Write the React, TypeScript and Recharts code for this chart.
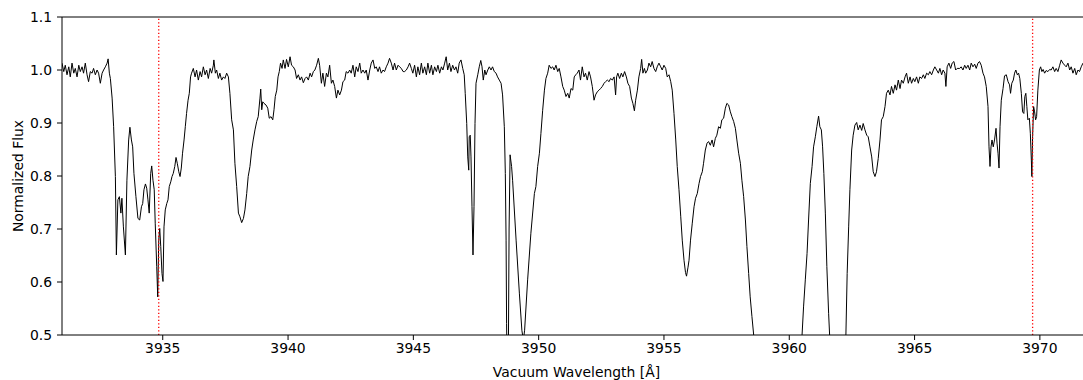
import { LineChart, Line, XAxis, YAxis, ReferenceLine, Label } from 'recharts';

// spectrum, [vacuum wavelength (A), normalized flux], split by region
const segK: [number, number][] = [
  [3930.98, 1.013], [3931.05, 0.997], [3931.11, 1.009], [3931.18, 0.991], [3931.25, 1.006], [3931.31, 0.987],
  [3931.38, 1.013], [3931.45, 0.994], [3931.51, 1.003], [3931.58, 0.987], [3931.65, 1.009], [3931.71, 0.997],
  [3931.78, 1.006], [3931.84, 0.994], [3931.91, 1.013], [3931.98, 0.991], [3932.04, 0.978], [3932.11, 0.997],
  [3932.18, 0.994], [3932.24, 1.003], [3932.31, 0.991], [3932.38, 1.0], [3932.44, 0.994], [3932.51, 0.975],
  [3932.58, 0.994], [3932.64, 1.0], [3932.71, 1.006], [3932.78, 1.013], [3932.82, 1.021], [3932.87, 0.994],
  [3932.91, 0.984], [3932.98, 0.947], [3933.04, 0.893], [3933.11, 0.799], [3933.15, 0.651], [3933.21, 0.755],
  [3933.27, 0.761], [3933.33, 0.73], [3933.37, 0.758], [3933.43, 0.704], [3933.51, 0.651], [3933.57, 0.792],
  [3933.64, 0.868], [3933.69, 0.892], [3933.75, 0.868], [3933.8, 0.855], [3933.85, 0.805], [3933.93, 0.761],
  [3934.01, 0.72], [3934.08, 0.717], [3934.15, 0.742], [3934.2, 0.748], [3934.25, 0.774], [3934.31, 0.785],
  [3934.36, 0.777], [3934.41, 0.755], [3934.46, 0.73], [3934.52, 0.805], [3934.56, 0.819], [3934.61, 0.792],
  [3934.66, 0.774], [3934.7, 0.711], [3934.76, 0.629], [3934.8, 0.572], [3934.84, 0.679], [3934.88, 0.701],
  [3934.92, 0.667], [3934.97, 0.616], [3935.01, 0.601], [3935.05, 0.704], [3935.1, 0.736], [3935.16, 0.748],
  [3935.21, 0.755], [3935.26, 0.78], [3935.32, 0.789], [3935.37, 0.799], [3935.42, 0.805], [3935.48, 0.818],
  [3935.53, 0.835], [3935.58, 0.824], [3935.64, 0.808], [3935.69, 0.799], [3935.74, 0.815], [3935.79, 0.843],
  [3935.85, 0.868], [3935.9, 0.893], [3935.95, 0.918], [3936.01, 0.943], [3936.06, 0.956], [3936.11, 0.987],
];

const seg3938: [number, number][] = [
  [3936.15, 0.994], [3936.22, 1.003], [3936.29, 0.987], [3936.35, 1.0], [3936.42, 0.981], [3936.49, 0.997],
  [3936.55, 0.987], [3936.62, 1.006], [3936.69, 0.991], [3936.75, 1.0], [3936.82, 0.984], [3936.89, 1.003],
  [3936.95, 0.994], [3937.02, 1.009], [3937.04, 1.019], [3937.1, 0.994], [3937.15, 1.0], [3937.22, 0.984],
  [3937.28, 0.994], [3937.35, 0.981], [3937.42, 0.987], [3937.48, 0.984], [3937.55, 0.994], [3937.62, 0.987],
  [3937.68, 0.956], [3937.75, 0.906], [3937.82, 0.887], [3937.88, 0.824], [3937.95, 0.78], [3938.02, 0.73],
  [3938.08, 0.723], [3938.15, 0.712], [3938.22, 0.72], [3938.28, 0.736], [3938.35, 0.767], [3938.41, 0.799],
  [3938.48, 0.818], [3938.55, 0.849], [3938.61, 0.868], [3938.68, 0.887], [3938.75, 0.903], [3938.81, 0.912],
  [3938.88, 0.947], [3938.91, 0.964], [3938.95, 0.925], [3938.99, 0.94], [3939.04, 0.937], [3939.12, 0.934],
  [3939.19, 0.928], [3939.25, 0.909], [3939.32, 0.912], [3939.39, 0.906], [3939.44, 0.925], [3939.49, 0.95],
  [3939.55, 0.962], [3939.6, 0.987], [3939.65, 0.997], [3939.7, 1.013], [3939.76, 1.003], [3939.81, 1.019],
  [3939.88, 1.003], [3939.94, 1.02], [3940.01, 1.006], [3940.08, 1.025], [3940.14, 1.009], [3940.21, 1.006],
  [3940.28, 1.0], [3940.34, 0.984], [3940.41, 0.991], [3940.48, 0.981], [3940.54, 0.987], [3940.61, 0.976],
  [3940.68, 0.984], [3940.74, 0.987], [3940.81, 0.981], [3940.88, 0.994], [3940.94, 0.987], [3941.01, 0.997],
  [3941.07, 1.0], [3941.14, 1.009], [3941.21, 1.022],
];

const seg3943: [number, number][] = [
  [3941.26, 1.009], [3941.33, 0.975], [3941.39, 0.994], [3941.46, 0.969], [3941.53, 0.994], [3941.59, 0.987],
  [3941.66, 1.009], [3941.73, 0.975], [3941.79, 0.981], [3941.86, 0.969], [3941.93, 0.947], [3941.99, 0.962],
  [3942.06, 0.953], [3942.13, 0.962], [3942.19, 0.978], [3942.26, 0.981], [3942.32, 0.997], [3942.39, 0.994],
  [3942.46, 1.0], [3942.52, 0.994], [3942.59, 1.009], [3942.66, 0.987], [3942.72, 1.006], [3942.79, 0.997],
  [3942.86, 1.013], [3942.92, 0.994], [3942.99, 1.0], [3943.06, 0.994], [3943.12, 1.0], [3943.19, 0.981],
  [3943.26, 1.0], [3943.32, 1.013], [3943.39, 1.019], [3943.46, 1.003], [3943.52, 1.006], [3943.59, 0.997],
  [3943.65, 1.006], [3943.72, 0.994], [3943.79, 1.0], [3943.85, 0.997], [3943.92, 1.006], [3943.99, 1.013],
  [3944.05, 1.022], [3944.12, 1.013], [3944.19, 1.0], [3944.25, 1.013], [3944.32, 1.0], [3944.39, 1.009],
  [3944.45, 1.006], [3944.52, 1.003], [3944.59, 0.997], [3944.65, 0.997], [3944.72, 1.0], [3944.79, 1.006],
  [3944.85, 1.013], [3944.92, 1.003], [3944.98, 0.994], [3945.05, 1.009], [3945.12, 0.987], [3945.18, 1.006],
  [3945.25, 0.991], [3945.32, 1.013], [3945.38, 0.994], [3945.45, 1.006], [3945.52, 0.991], [3945.58, 1.013],
  [3945.65, 0.994], [3945.72, 1.009], [3945.78, 0.991], [3945.85, 1.006], [3945.92, 0.997], [3945.98, 1.009],
  [3946.05, 0.994], [3946.12, 1.006], [3946.18, 1.0], [3946.25, 1.013], [3946.31, 1.025],
];

const seg3949: [number, number][] = [
  [3946.37, 1.0], [3946.44, 1.013], [3946.5, 0.997], [3946.57, 1.009], [3946.64, 1.0], [3946.7, 1.006],
  [3946.77, 0.994], [3946.83, 1.013], [3946.9, 1.019], [3946.97, 1.003], [3947.03, 0.991], [3947.07, 0.956],
  [3947.13, 0.899], [3947.17, 0.836], [3947.21, 0.811], [3947.23, 0.874], [3947.27, 0.877], [3947.3, 0.836],
  [3947.34, 0.742], [3947.38, 0.651], [3947.42, 0.742], [3947.46, 0.899], [3947.5, 0.975], [3947.57, 0.991],
  [3947.63, 1.006], [3947.69, 1.018], [3947.74, 1.006], [3947.79, 0.981], [3947.85, 1.0], [3947.9, 0.991],
  [3947.97, 1.0], [3948.03, 1.006], [3948.1, 1.0], [3948.16, 1.006], [3948.23, 0.997], [3948.3, 0.994],
  [3948.36, 0.987], [3948.43, 0.981], [3948.5, 0.975], [3948.56, 0.953], [3948.63, 0.893], [3948.67, 0.805],
  [3948.7, 0.679], [3948.72, 0.522], [3948.75, 0.4], [3948.79, 0.45], [3948.82, 0.7], [3948.86, 0.84],
  [3948.92, 0.818], [3948.96, 0.792], [3949.1, 0.679], [3949.23, 0.579], [3949.33, 0.509], [3949.39, 0.49],
  [3949.44, 0.509], [3949.56, 0.604], [3949.69, 0.692], [3949.83, 0.767], [3949.89, 0.78], [3949.96, 0.818],
  [3950.03, 0.843], [3950.09, 0.88], [3950.16, 0.924], [3950.23, 0.962], [3950.29, 0.984], [3950.36, 0.994],
  [3950.42, 1.009], [3950.49, 1.003], [3950.56, 1.006], [3950.62, 1.0], [3950.69, 1.009], [3950.76, 0.997],
  [3950.82, 1.003], [3950.89, 0.987], [3950.96, 0.969], [3951.02, 0.962], [3951.09, 0.95], [3951.16, 0.956],
  [3951.22, 0.947], [3951.29, 0.965], [3951.36, 0.962], [3951.42, 0.987],
];

const seg3955: [number, number][] = [
  [3951.48, 0.991], [3951.54, 0.994], [3951.61, 1.0], [3951.67, 0.981], [3951.74, 1.006], [3951.81, 0.987],
  [3951.87, 0.994], [3951.94, 0.981], [3952.01, 0.997], [3952.07, 0.987], [3952.14, 0.969], [3952.21, 0.943],
  [3952.27, 0.953], [3952.34, 0.959], [3952.41, 0.962], [3952.47, 0.965], [3952.54, 0.969], [3952.61, 0.975],
  [3952.67, 0.978], [3952.74, 0.981], [3952.81, 0.978], [3952.87, 0.984], [3952.94, 0.981], [3953.01, 0.987],
  [3953.07, 0.953], [3953.11, 0.987], [3953.16, 0.994], [3953.23, 0.984], [3953.3, 0.994], [3953.36, 0.987],
  [3953.43, 0.997], [3953.5, 0.987], [3953.56, 0.975], [3953.63, 0.969], [3953.7, 0.947], [3953.76, 0.937],
  [3953.82, 0.923], [3953.87, 0.943], [3953.94, 0.962], [3954.0, 0.987], [3954.07, 1.003], [3954.11, 1.02],
  [3954.16, 0.994], [3954.22, 1.003], [3954.27, 0.994], [3954.34, 1.0], [3954.4, 1.013], [3954.47, 1.006],
  [3954.53, 1.016], [3954.6, 1.003], [3954.67, 0.997], [3954.73, 1.006], [3954.8, 1.013], [3954.87, 1.006],
  [3954.93, 1.0], [3955.0, 1.009], [3955.07, 1.003], [3955.13, 0.987], [3955.2, 0.991], [3955.27, 0.978],
  [3955.33, 0.962], [3955.4, 0.918], [3955.47, 0.868], [3955.53, 0.818], [3955.6, 0.774], [3955.67, 0.723],
  [3955.73, 0.679], [3955.8, 0.641], [3955.86, 0.618], [3955.9, 0.611], [3955.96, 0.628], [3956.0, 0.641],
  [3956.06, 0.679], [3956.13, 0.711], [3956.2, 0.742], [3956.26, 0.758], [3956.33, 0.767], [3956.4, 0.786],
  [3956.46, 0.799], [3956.53, 0.808],
];

const seg3960: [number, number][] = [
  [3956.58, 0.824], [3956.65, 0.849], [3956.72, 0.862], [3956.78, 0.865], [3956.85, 0.858], [3956.92, 0.868],
  [3956.98, 0.855], [3957.05, 0.871], [3957.11, 0.877], [3957.18, 0.893], [3957.25, 0.89], [3957.31, 0.906],
  [3957.38, 0.909], [3957.45, 0.928], [3957.51, 0.937], [3957.58, 0.934], [3957.65, 0.921], [3957.71, 0.912],
  [3957.78, 0.903], [3957.85, 0.89], [3957.91, 0.868], [3957.98, 0.843], [3958.05, 0.824], [3958.11, 0.792],
  [3958.18, 0.761], [3958.25, 0.717], [3958.31, 0.667], [3958.38, 0.616], [3958.44, 0.572], [3958.51, 0.535],
  [3958.58, 0.5], [3958.9, 0.4], [3959.6, 0.3], [3960.35, 0.38], [3960.51, 0.5], [3960.57, 0.553],
  [3960.64, 0.604], [3960.71, 0.654], [3960.77, 0.717], [3960.84, 0.786], [3960.91, 0.818], [3960.97, 0.855],
  [3961.04, 0.874], [3961.1, 0.893], [3961.17, 0.913], [3961.22, 0.893], [3961.28, 0.887], [3961.33, 0.855],
  [3961.38, 0.805], [3961.44, 0.73], [3961.5, 0.629], [3961.57, 0.541], [3961.61, 0.5], [3961.7, 0.39],
  [3962.2, 0.38],
];

const seg3964: [number, number][] = [
  [3962.26, 0.5], [3962.31, 0.616], [3962.37, 0.704], [3962.42, 0.774], [3962.49, 0.849], [3962.55, 0.877],
  [3962.62, 0.896], [3962.69, 0.901], [3962.75, 0.887], [3962.82, 0.896], [3962.89, 0.886], [3962.95, 0.899],
  [3963.02, 0.887], [3963.09, 0.877], [3963.15, 0.874], [3963.22, 0.855], [3963.29, 0.836], [3963.35, 0.808],
  [3963.42, 0.799], [3963.48, 0.808], [3963.55, 0.833], [3963.62, 0.868], [3963.68, 0.906], [3963.75, 0.912],
  [3963.82, 0.931], [3963.88, 0.956], [3963.95, 0.962], [3964.02, 0.953], [3964.08, 0.969], [3964.15, 0.956],
  [3964.22, 0.972], [3964.28, 0.962], [3964.35, 0.981], [3964.42, 0.965], [3964.48, 0.981], [3964.55, 0.975],
  [3964.62, 0.987], [3964.68, 0.994], [3964.75, 0.975], [3964.82, 0.987], [3964.88, 0.975], [3964.95, 0.984],
  [3965.01, 0.978], [3965.08, 0.987], [3965.15, 0.975], [3965.21, 0.987], [3965.28, 0.984], [3965.35, 0.991],
  [3965.41, 0.984], [3965.48, 0.994], [3965.55, 0.991], [3965.61, 0.997], [3965.68, 0.991], [3965.75, 1.0],
  [3965.81, 1.006], [3965.88, 1.0], [3965.95, 0.994], [3966.01, 1.003], [3966.08, 0.991], [3966.14, 1.0],
  [3966.21, 0.994], [3966.25, 0.969], [3966.3, 1.006], [3966.37, 1.013], [3966.44, 1.003], [3966.5, 1.013],
  [3966.57, 1.016], [3966.64, 1.0], [3966.7, 1.003],
];

const segH: [number, number][] = [
  [3966.8, 1.003], [3966.86, 1.006], [3966.93, 1.0], [3967.0, 1.009], [3967.06, 1.003], [3967.13, 1.009],
  [3967.2, 1.0], [3967.26, 1.013], [3967.33, 1.006], [3967.4, 1.011], [3967.46, 1.003], [3967.53, 1.013],
  [3967.59, 1.016], [3967.66, 1.009], [3967.73, 0.994], [3967.79, 0.987], [3967.86, 0.969], [3967.93, 0.931],
  [3967.97, 0.855], [3968.01, 0.818], [3968.05, 0.855], [3968.09, 0.868], [3968.14, 0.855], [3968.19, 0.868],
  [3968.25, 0.89], [3968.29, 0.862], [3968.33, 0.843], [3968.37, 0.815], [3968.41, 0.893], [3968.46, 0.943],
  [3968.53, 0.965], [3968.59, 0.989], [3968.66, 0.991], [3968.73, 0.978], [3968.79, 0.972], [3968.83, 0.956],
  [3968.88, 0.975], [3968.94, 0.981], [3968.99, 0.994], [3969.04, 1.0], [3969.1, 0.991], [3969.15, 0.994],
  [3969.2, 0.984], [3969.26, 0.956], [3969.31, 0.921], [3969.36, 0.918], [3969.4, 0.95], [3969.44, 0.956],
  [3969.48, 0.931], [3969.52, 0.906], [3969.58, 0.909], [3969.62, 0.88], [3969.66, 0.83], [3969.68, 0.799],
  [3969.71, 0.874], [3969.75, 0.931], [3969.79, 0.921], [3969.83, 0.906], [3969.87, 0.912], [3969.92, 0.962],
  [3969.98, 1.0], [3970.03, 1.006], [3970.08, 0.997], [3970.13, 1.001], [3970.19, 0.994], [3970.25, 0.999],
  [3970.32, 0.997], [3970.39, 1.001], [3970.45, 1.0], [3970.52, 1.006], [3970.59, 0.997], [3970.65, 1.003],
  [3970.72, 0.997], [3970.79, 1.009], [3970.85, 1.019], [3970.92, 1.013], [3970.99, 1.009], [3971.05, 1.006],
  [3971.12, 1.013], [3971.19, 1.0], [3971.25, 1.006], [3971.32, 0.994], [3971.39, 1.003], [3971.45, 0.991],
  [3971.52, 1.0], [3971.58, 0.997], [3971.65, 1.006], [3971.72, 1.013],
];

const caLines = [3934.84, 3969.71];
const xTicks = [3935, 3940, 3945, 3950, 3955, 3960, 3965, 3970];
const yTicks = [0.5, 0.6, 0.7, 0.8, 0.9, 1.0, 1.1];

const data = [...segK, ...seg3938, ...seg3943, ...seg3949, ...seg3955, ...seg3960, ...seg3964, ...segH].map(
  ([w, f]) => ({ w, f })
);

const font = 'DejaVu Sans';
const tickStyle = { fill: '#000', fontSize: 13.9, fontFamily: font };

export default function App() {
  return (
    <div style={{ position: 'absolute', left: 0, top: 0, width: 1083, height: 380, overflow: 'hidden', background: '#fff' }}>
      <LineChart width={1091} height={380} data={data} margin={{ top: 17, right: 0, bottom: 0, left: 0 }}>
        <XAxis
          dataKey="w"
          type="number"
          domain={[3930.98, 3972.04]}
          allowDataOverflow
          ticks={xTicks}
          tick={tickStyle}
          tickSize={5}
          tickMargin={3}
          height={45}
          stroke="#000"
          label={{ value: 'Vacuum Wavelength [Å]', position: 'insideBottom', offset: 3, fill: '#000', fontSize: 13.9, fontFamily: font }}
        />
        <YAxis
          type="number"
          domain={[0.5, 1.1]}
          allowDataOverflow
          ticks={yTicks}
          tickFormatter={(v) => v.toFixed(1)}
          tick={tickStyle}
          tickSize={5}
          tickMargin={5}
          width={62}
          stroke="#000"
        >
          <Label
            content={() => (
              <text transform="translate(23.3,176) rotate(-90)" textAnchor="middle" fill="#000" fontSize={13.9} fontFamily={font}>
                Normalized Flux
              </text>
            )}
          />
        </YAxis>
        <ReferenceLine y={1.1} stroke="#000" strokeWidth={1} />
        <Line dataKey="f" type="linear" stroke="#000" strokeWidth={1} dot={false} isAnimationActive={false} />
        {caLines.map((x) => (
          <ReferenceLine key={x} x={x} stroke="#ff0000" strokeWidth={1.3} strokeDasharray="1.3 2.2" />
        ))}
      </LineChart>
    </div>
  );
}
